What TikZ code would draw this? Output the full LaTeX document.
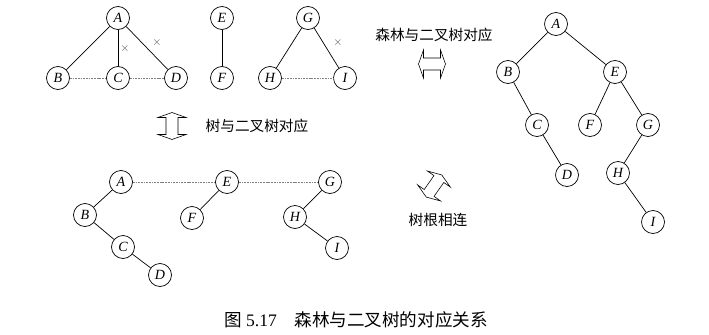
\documentclass[tikz,border=0pt]{standalone}
\usepackage{fontspec}
\setmainfont{Liberation Serif}
\newfontfamily\cjk{Noto Sans CJK SC}
\usepackage{tikz}

\begin{document}
\begin{tikzpicture}[x=0.03cm, y=-0.03cm, line width=0.6pt,
        vtx/.style={draw, circle, minimum size=0.69cm, inner sep=0pt, font=\fontsize{12}{12}\selectfont\itshape},
        link/.style={gray, dash pattern=on 1.5pt off 0.8pt},
        cross/.style={inner sep=0pt, text=black!70, font=\fontsize{10}{10}\selectfont},
        dblarrow/.pic={\draw[line width=0.5pt] (-13.5,0) -- (-8.5,-14) -- (-8.5,-6) -- (8.5,-6) -- (8.5,-14) -- (13.5,0)
            -- (8.5,14) -- (8.5,6) -- (-8.5,6) -- (-8.5,14) -- cycle;},
        lbl/.style={inner sep=0pt, font=\cjk\fontsize{12.5}{13}\selectfont}]
        \useasboundingbox (0,0) rectangle (709,334);

        % forest
        \node (fA) [vtx] at (118,18) {A};
        \node (fB) [vtx] at (58,78) {B};
        \node (fC) [vtx] at (118,78) {C};
        \node (fD) [vtx] at (176,78) {D};
        \node (fE) [vtx] at (222,18) {E};
        \node (fF) [vtx] at (222,78) {F};
        \node (fG) [vtx] at (308,18) {G};
        \node (fH) [vtx] at (270,78) {H};
        \node (fI) [vtx] at (345,78) {I};
        \draw (fA) -- (fB);
        \draw (fA) -- (fC);
        \draw (fA) -- (fD);
        \draw (fE) -- (fF);
        \draw (fG) -- (fH);
        \draw (fG) -- (fI);
        \draw [link] (fB) -- (fC);
        \draw [link] (fC) -- (fD);
        \draw [link] (fH) -- (fI);
        \node (xAC) [cross] at (125,49) {$\times$};
        \node (xAD) [cross] at (157,43) {$\times$};
        \node (xGI) [cross] at (338,43) {$\times$};

        % arrows and labels
        \pic (arrTree) [rotate=90] at (172,126) {dblarrow};
        \node (lblTree) [lbl] at (257,126) {树与二叉树对应};
        \node (lblForest) [lbl] at (434,35) {森林与二叉树对应};
        \pic (arrForest) at (432,64) {dblarrow};
        \pic (arrRoot) [rotate=55] at (434,186) {dblarrow};
        \node (lblRoot) [lbl] at (438,220) {树根相连};

        % linked trees
        \node (lA) [vtx] at (121,182) {A};
        \node (lB) [vtx] at (85,215) {B};
        \node (lC) [vtx] at (123,247) {C};
        \node (lD) [vtx] at (160,275) {D};
        \node (lE) [vtx] at (227,182) {E};
        \node (lF) [vtx] at (192,218) {F};
        \node (lG) [vtx] at (330,182) {G};
        \node (lH) [vtx] at (295,217) {H};
        \node (lI) [vtx] at (337,248) {I};
        \draw (lA) -- (lB);
        \draw (lB) -- (lC);
        \draw (lC) -- (lD);
        \draw (lE) -- (lF);
        \draw (lG) -- (lH);
        \draw (lH) -- (lI);
        \draw [link] (lA) -- (lE);
        \draw [link] (lE) -- (lG);

        % binary tree
        \node (bA) [vtx] at (556,24) {A};
        \node (bB) [vtx] at (508,72) {B};
        \node (bE) [vtx] at (615,72) {E};
        \node (bC) [vtx] at (537,125) {C};
        \node (bF) [vtx] at (590,125) {F};
        \node (bG) [vtx] at (648,125) {G};
        \node (bD) [vtx] at (567,175) {D};
        \node (bH) [vtx] at (618,173) {H};
        \node (bI) [vtx] at (653,222) {I};
        \draw (bA) -- (bB);
        \draw (bA) -- (bE);
        \draw (bB) -- (bC);
        \draw (bC) -- (bD);
        \draw (bE) -- (bF);
        \draw (bE) -- (bG);
        \draw (bG) -- (bH);
        \draw (bH) -- (bI);

        % caption
        \node (caption) [inner sep=0pt, font=\fontsize{15}{16}\selectfont] at (356,320) {{\cjk 图} 5.17\quad{\cjk 森林与二叉树的对应关系}};
    \end{tikzpicture}
\end{document}
